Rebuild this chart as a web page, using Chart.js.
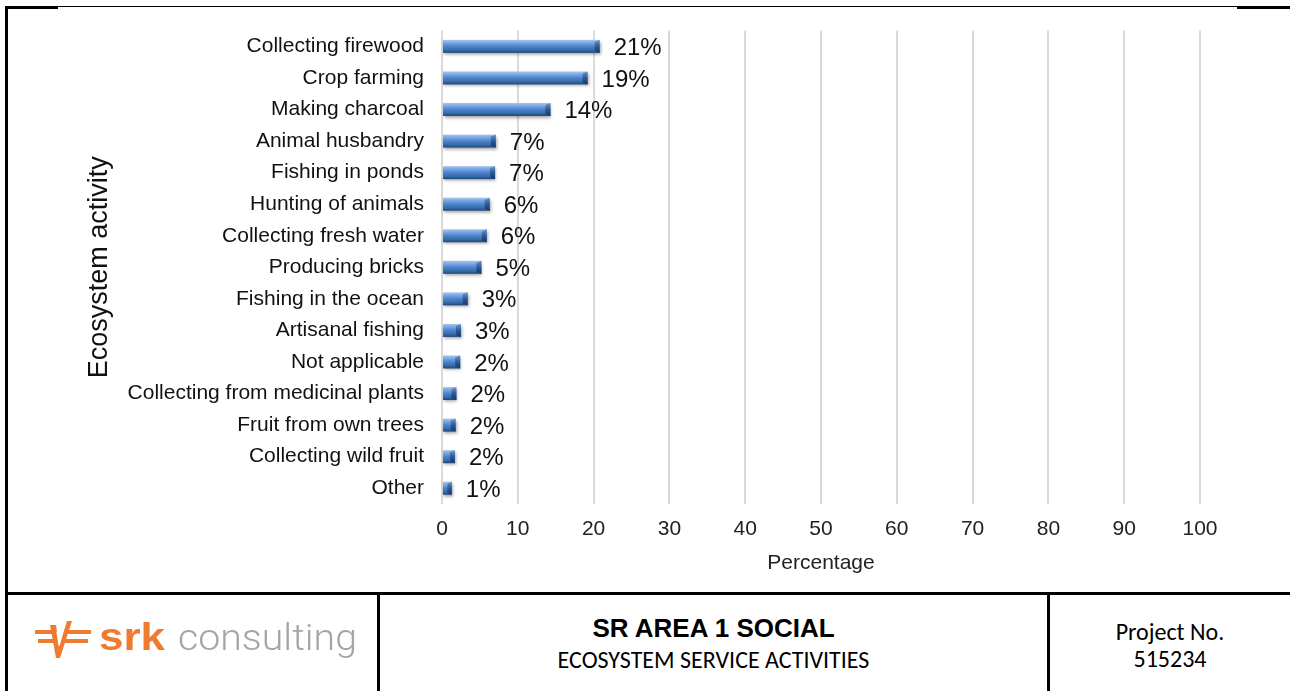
<!DOCTYPE html>
<html>
<head>
<meta charset="utf-8">
<script src="https://cdn.jsdelivr.net/npm/chart.js@4.4.0/dist/chart.umd.min.js"></script>
<style>
  html, body { margin: 0; padding: 0; background: #fff; }
  body { width: 1290px; height: 691px; position: relative; overflow: hidden; font-family: "Liberation Sans", Arial, sans-serif; }
  #chartBox { position: absolute; left: 0; top: 0; width: 1290px; height: 592px; }
  .rule { position: absolute; background: #000; }
  .cell { position: absolute; text-align: center; color: #000; }
  .title { font-weight: bold; font-size: 26px; }
  .sub { font-family: Carlito, Lato, "Liberation Sans", sans-serif; font-size: 24px; }
</style>
</head>
<body>
<div id="chartBox"><canvas id="ecoChart"></canvas></div>

<!-- frame -->
<div class="rule" style="left:5px;top:6px;width:1285px;height:1px;"></div>
<div class="rule" style="left:5px;top:6px;width:53px;height:3px;"></div>
<div class="rule" style="left:1237px;top:6px;width:53px;height:3px;"></div>
<div class="rule" style="left:5px;top:6px;width:3px;height:685px;"></div>
<div class="rule" style="left:5px;top:592px;width:1285px;height:3px;"></div>
<div class="rule" style="left:377px;top:592px;width:3px;height:99px;"></div>
<div class="rule" style="left:1047px;top:592px;width:3px;height:99px;"></div>

<!-- srk logo -->
<svg style="position:absolute;left:0;top:595px;" width="377" height="96">
  <g fill="#ee7b30">
    <rect x="35" y="35" width="20" height="4"/>
    <rect x="38" y="44" width="17" height="4"/>
    <rect x="64" y="35" width="27" height="4"/>
    <rect x="64" y="44" width="24" height="4"/>
    <polygon points="50,30 56,30 59,52 67,26 72,26 60,63 56,63"/>
  </g>
  <polyline points="57,37 59,50 64,32" fill="none" stroke="#fff" stroke-width="1.2"/>
  <text x="99" y="55" font-family="Liberation Sans, Arial" font-weight="bold" font-size="39" fill="#ee7b30" textLength="66" lengthAdjust="spacingAndGlyphs">srk</text>
  <text x="178" y="55" font-family="Roboto, Lato, sans-serif" font-weight="300" font-size="36" fill="#a5a5a5" textLength="179" lengthAdjust="spacingAndGlyphs">consulting</text>
</svg>

<div class="cell title" style="left:380px;width:667px;top:613px;">SR AREA 1 SOCIAL</div>
<div class="cell sub" style="left:380px;width:667px;top:645px;">ECOSYSTEM SERVICE ACTIVITIES</div>
<div class="cell sub" style="left:1050px;width:240px;top:617px;">Project No.</div>
<div class="cell sub" style="left:1050px;width:240px;top:644px;">515234</div>

<script>
const activities = [
  'Collecting firewood', 'Crop farming', 'Making charcoal', 'Animal husbandry',
  'Fishing in ponds', 'Hunting of animals', 'Collecting fresh water', 'Producing bricks',
  'Fishing in the ocean', 'Artisanal fishing', 'Not applicable',
  'Collecting from medicinal plants', 'Fruit from own trees', 'Collecting wild fruit', 'Other'
];
const shares = [20.8, 19.2, 14.3, 7.1, 7.0, 6.3, 5.9, 5.2, 3.4, 2.5, 2.4, 1.9, 1.8, 1.7, 1.3];
const pctTicks = [0, 10, 20, 30, 40, 50, 60, 70, 80, 90, 100];

const FONT = '"Liberation Sans", Arial, sans-serif';

// shaded cylinder bars, drawn over each bar element's own geometry
const cylinderBars = {
  id: 'cylinderBars',
  afterDatasetsDraw(chart) {
    const ctx = chart.ctx;
    chart.getDatasetMeta(0).data.forEach((bar) => {
      const x0 = bar.base, x1 = bar.x, h = bar.height;
      const top = bar.y - h / 2, bottom = bar.y + h / 2;
      ctx.save();
      ctx.shadowColor = 'rgba(0,0,0,0.35)';
      ctx.shadowBlur = 3;
      ctx.shadowOffsetX = 1;
      ctx.shadowOffsetY = 2;
      const g = ctx.createLinearGradient(0, top, 0, bottom);
      g.addColorStop(0, '#a9c6ee');
      g.addColorStop(0.22, '#79a8e6');
      g.addColorStop(0.5, '#4d83cc');
      g.addColorStop(0.8, '#356aa8');
      g.addColorStop(1, '#1f4477');
      ctx.fillStyle = g;
      ctx.fillRect(x0, top, x1 - x0, h);
      ctx.restore();
      // darker end cap
      const capW = Math.min(5, (x1 - x0) / 2);
      const cg = ctx.createLinearGradient(0, top, 0, bottom);
      cg.addColorStop(0, '#6e95c9');
      cg.addColorStop(0.5, '#2c5a96');
      cg.addColorStop(1, '#163662');
      ctx.fillStyle = cg;
      ctx.beginPath();
      ctx.moveTo(x1 - capW, top + 2);
      ctx.lineTo(x1, top);
      ctx.lineTo(x1, bottom);
      ctx.lineTo(x1 - capW, bottom - 2);
      ctx.closePath();
      ctx.fill();
    });
  }
};

// percentage labels after the bar ends
const valueLabels = {
  id: 'valueLabels',
  afterDatasetsDraw(chart) {
    const ctx = chart.ctx;
    const values = chart.data.datasets[0].data;
    ctx.save();
    ctx.font = '24px ' + FONT;
    ctx.fillStyle = '#111';
    ctx.textAlign = 'left';
    ctx.textBaseline = 'middle';
    chart.getDatasetMeta(0).data.forEach((bar, i) => {
      ctx.fillText(Math.round(values[i]) + '%', bar.x + 14, bar.y + 2);
    });
    ctx.restore();
  }
};

new Chart(document.getElementById('ecoChart'), {
  type: 'bar',
  data: {
    labels: activities,
    datasets: [{
      data: shares,
      backgroundColor: 'rgba(0,0,0,0)',
      barThickness: 13
    }]
  },
  options: {
    indexAxis: 'y',
    responsive: true,
    maintainAspectRatio: false,
    animation: false,
    layout: { padding: { top: 24, right: 90, bottom: 0, left: 0 } },
    plugins: { legend: { display: false }, tooltip: { enabled: false } },
    scales: {
      x: {
        min: 0,
        max: 100,
        afterBuildTicks: (scale) => { scale.ticks = pctTicks.map((v) => ({ value: v })); },
        afterFit: (scale) => { scale.height = 88; },
        grid: { color: '#d9d9d9', lineWidth: 2, drawTicks: false },
        border: { display: false },
        ticks: { padding: 13, color: '#222', font: { family: FONT, size: 21 } },
        title: {
          display: true,
          text: 'Percentage',
          color: '#222',
          padding: { top: 0, bottom: 16 },
          font: { family: FONT, size: 21 }
        }
      },
      y: {
        afterFit: (scale) => { scale.width = 442; },
        grid: { display: false, drawTicks: false },
        border: { display: false },
        ticks: { padding: 18, color: '#111', font: { family: FONT, size: 21 } },
        title: {
          display: true,
          text: 'Ecosystem activity',
          color: '#111',
          padding: { top: 83, bottom: 0 },
          font: { family: FONT, size: 27 }
        }
      }
    }
  },
  plugins: [cylinderBars, valueLabels]
});
</script>
</body>
</html>
